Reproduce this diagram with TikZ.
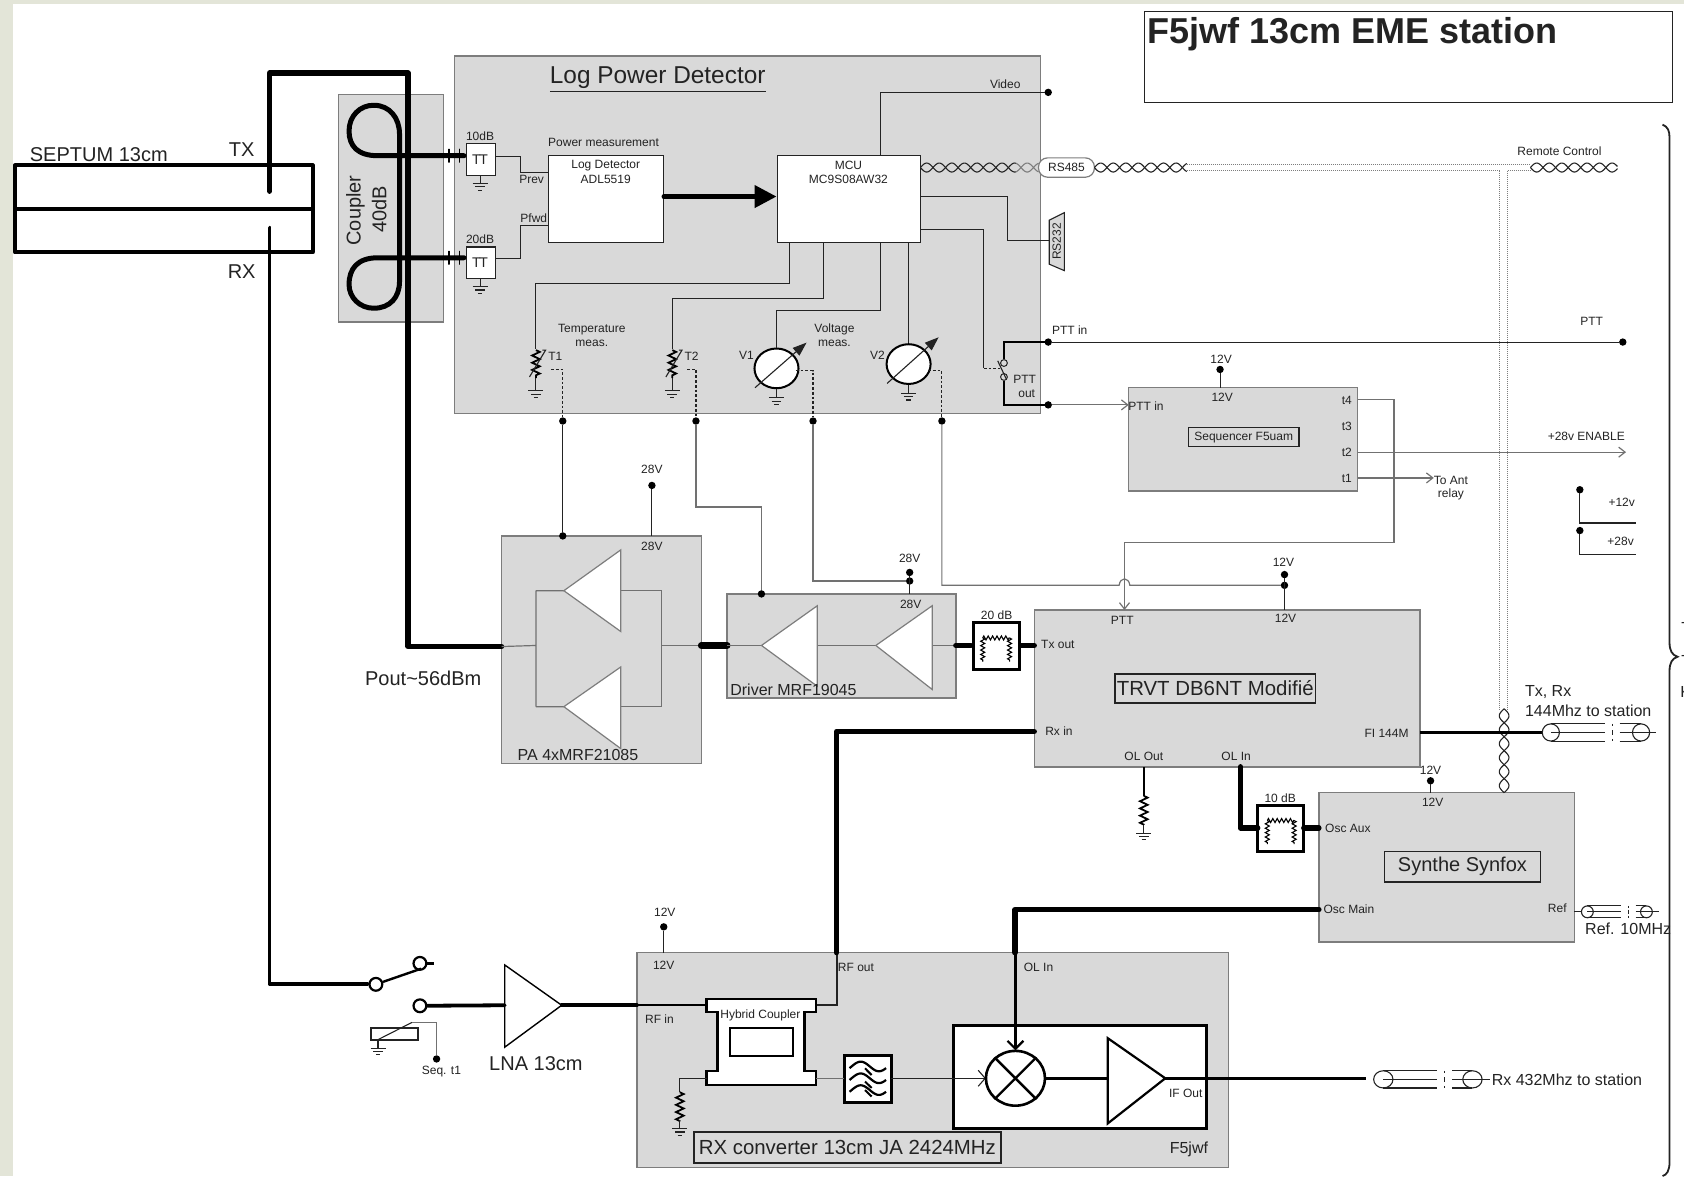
\documentclass[tikz,border=0pt]{standalone}
\usepackage{fontspec}
\setmainfont{Liberation Sans}
\usetikzlibrary{arrows.meta,decorations.pathmorphing,shapes.geometric}
\definecolor{bgc}{RGB}{227,229,216}
\definecolor{boxfill}{RGB}{217,217,217}
\definecolor{boxline}{RGB}{125,125,125}
\definecolor{ink}{RGB}{35,35,35}
\newcounter{lbc}
\newcommand\fa{\fontsize{6}{7}\selectfont}
\newcommand\fb{\fontsize{8}{9.5}\selectfont}
\newcommand\fc{\fontsize{10}{12}\selectfont}
\newcommand\fd{\fontsize{12.2}{15}\selectfont}
\NewDocumentCommand\lab{O{} r() m}{\stepcounter{lbc}\node[txt,#1] (L\arabic{lbc}) at (#2) {#3};}
\newcommand\bx[6][box]{\node[#1,anchor=north west,minimum width={(#5-#3)*0.537pt},minimum height={(#6-#4)*0.537pt}] (#2) at (#3,#4) {};}
\newcommand\dotn[2]{\node[dotst] (#1) at (#2) {};}
\newcommand\twisth[4]{\draw[tw] plot[domain=#1:#2,samples=#4,smooth] (\x,{#3+4.2*sin((\x-#1)/23.4*360)});\draw[tw] plot[domain=#1:#2,samples=#4,smooth] (\x,{#3-4.2*sin((\x-#1)/23.4*360)});}
\newcommand\twistv[4]{\draw[tw] plot[domain=#2:#3,samples=#4,smooth] ({#1+4.5*sin((\x-#2)/26*360)},\x);\draw[tw] plot[domain=#2:#3,samples=#4,smooth] ({#1-4.5*sin((\x-#2)/26*360)},\x);}
% coax: x of first ring, x of second ring, y, rx, ry, gap x, x of tail
\newcommand\coaxm[7]{\draw[wire] (#1,#3) ellipse [x radius=#4,y radius=#5] (#2,#3) ellipse [x radius=#4,y radius=#5];
 \draw[wire] (#1,#3-#5)--(#6-7,#3-#5) (#1,#3)--(#6-7,#3) (#1,#3+#5)--(#6-7,#3+#5) (#6+7,#3-#5)--(#2,#3-#5) (#6+7,#3)--(#7,#3) (#6+7,#3+#5)--(#2,#3+#5);
 \draw[wire] (#6,#3-#5)--(#6,#3-#5+2) (#6,#3-2)--(#6,#3+2) (#6,#3+#5-2)--(#6,#3+#5);}
\tikzset{x=0.537pt,y=-0.537pt,
 box/.style={draw=boxline,fill=boxfill,line width=0.7pt,inner sep=0pt,outer sep=0pt},
 wbox/.style={draw=ink,fill=white,line width=0.55pt,inner sep=0pt,outer sep=0pt},
 tbox/.style={draw=ink,fill=boxfill,line width=0.7pt,inner sep=0pt,outer sep=0pt},
 kbox/.style={draw=black,fill=white,line width=1.5pt,inner sep=0pt,outer sep=0pt},
 txt/.style={inner sep=0pt,outer sep=0pt,text=ink,font=\fa},
 b/.style={font=\fb},c/.style={font=\fc},
 wire/.style={draw=ink,line width=0.55pt},
 gw/.style={draw=boxline!90!black,line width=0.6pt},
 w2/.style={draw=black,line width=1.2pt},
 w3/.style={draw=black,line width=1.9pt,line cap=round,line join=round},
 w4/.style={draw=black,line width=2.7pt,line cap=round,line join=round},
 dsh/.style={draw=ink,line width=0.6pt,dash pattern=on 1.4pt off 1pt},
 tw/.style={draw=ink,line width=0.55pt},
 dd/.style={draw=boxline,line width=0.55pt,dash pattern=on 0.5pt off 0.5pt},
 tri/.style={draw=boxline,fill=white,line width=0.6pt,line join=miter},
 dotst/.style={circle,fill=black,inner sep=0pt,outer sep=0pt,minimum size=3.7pt},
 zz/.style={draw=black,line width=0.9pt,decorate,decoration={zigzag,amplitude=1.9pt,segment length=3.6pt}},
 zs/.style={draw=black,line width=0.55pt,decorate,decoration={zigzag,amplitude=1pt,segment length=2.2pt}},
 gnd/.pic={\draw[wire] (0,0)--(0,8) (-7,8)--(7,8) (-4.5,11)--(4.5,11) (-2,14)--(2,14);},
 atten/.pic={\path[zs] (-12.5,-4)--(12.5,-4);\path[zs] (-12.5,-4)--(-12.5,18);\path[zs] (12.5,-4)--(12.5,18);},
 opena/.style={-{Straight Barb[length=3.2pt,width=5pt]}}
}
\begin{document}
\begin{tikzpicture}
\useasboundingbox (0,0) rectangle (1568,1095);
\fill[bgc] (0,0) rectangle (1568,1095);
\fill[white] (12,4) rectangle (1568,1095);
% ---------- blocks
\bx[box]{coupler}{315}{88}{413}{300}
\bx[box]{lpd}{423}{52}{969}{385}
\bx[box]{seq}{1051}{361}{1264}{457}
\bx[box]{pa}{467}{499}{653}{711}
\bx[box]{drv}{677}{553}{890}{650}
\bx[box]{trvt}{963}{568}{1322}{714}
\bx[box]{syn}{1228}{738}{1466}{877}
\bx[box]{rxc}{593}{887}{1144}{1087}
\bx[wbox]{logdet}{511}{145}{618}{226}
\bx[wbox]{mcu}{724}{145}{857}{226}
\bx[wbox]{att1}{434}{134}{461}{163}
\bx[wbox]{att2}{434}{230}{461}{259}
\node[draw=ink,line width=0.6pt,fill=none,minimum width=492*0.537pt,minimum height=85*0.537pt,anchor=north west,inner sep=0pt] (titlebox) at (1065,10) {};
% ---------- named connection points
\coordinate (txp) at (251,178);
\coordinate (txa) at (251,68);
\coordinate (txb) at (380,602);
\coordinate (rxp) at (251,212);
\coordinate (rxb) at (251,916);
\coordinate (pain) at (467,602);
\coordinate (paout) at (653,601);
\coordinate (drvin) at (677,601);
\coordinate (drvout) at (890,601);
\coordinate (trtx) at (963,601);
\coordinate (trrx) at (963,681);
\coordinate (trfi) at (1322,682);
\coordinate (ring144) at (1436,682);
\coordinate (tror) at (1155,714);
\coordinate (trol) at (1065,714);
\coordinate (a10l) at (1171,771);
\coordinate (a10r) at (1214,771);
\coordinate (synaux) at (1228,771);
\coordinate (synmain) at (1228,847);
\coordinate (mixtop) at (945.5,978);
\coordinate (mixl) at (918,1004);
\coordinate (mixr) at (973,1004);
\coordinate (lnaout) at (523,936);
\coordinate (lnain) at (470,936);
\coordinate (hybl) at (658,936);
\coordinate (hybr) at (760,936);
\coordinate (hybbl) at (658,1004);
\coordinate (hybbr) at (760,1004);
\coordinate (filtl) at (786,1004);
\coordinate (filtr) at (830,1004);
\coordinate (ifamp) at (1031,1004);
\coordinate (ifout) at (1085,1004);
% ---------- septum
\draw[w3,line width=2pt] (14,154) rectangle (291,235) (14,195)--(291,195);
\lab[c](92,144){SEPTUM 13cm}
\lab[c](225,139){TX}
\lab[c](225,253){RX}
% ---------- TX / RX heavy lines, coupler
\draw[w4,line width=2.5pt] (432,145)--(352,145) .. controls (333,145) and (325,136) .. (325,122) .. controls (325,108) and (335,98) .. (348,98) .. controls (363,98) and (372,110) .. (372,125) -- (372,262) .. controls (372,277) and (363,287) .. (348,287) .. controls (335,287) and (325,277) .. (325,265) .. controls (325,250) and (333,240) .. (352,240) -- (432,240);
\draw[w4,line width=0.6pt] (418,139)--(418,151) (428,139)--(428,151) (418,234)--(418,246) (428,234)--(428,246);
\draw[w4] (txp)--(txa)-|(txb)--(pain);
\draw[w3] (rxp)|-(rxb)--(342,916);
\lab[c,rotate=90](331,196){Coupler}
\lab[c,rotate=90](353,195){40dB}
% ---------- Log Power Detector
\lab[font=\fd,anchor=west](512,74){\underline{Log Power Detector}}
\lab(562,133){Power measurement}
\lab(564,154){Log Detector}
\lab(564,167){ADL5519}
\lab(790,154){MCU}
\lab(790,167){MC9S08AW32}
\lab(447,127){10dB}
\lab(447,223){20dB}
\lab(447,149){\fontsize{7}{8}\selectfont T\kern-0.7pt T}
\lab(447,245){\fontsize{7}{8}\selectfont T\kern-0.7pt T}
\pic at (447,163) {gnd};
\pic at (447,259) {gnd};
\coordinate (ldp) at (511,161);
\coordinate (ldf) at (511,210);
\draw[wire] (461,146)-|(485,161)--(ldp);
\draw[wire] (461,241)-|(485,210)--(ldf);
\lab(495,167){Prev}
\lab(497,203){Pfwd}
\draw[w3,line width=2.2pt,-{Triangle[length=11pt,width=11pt]}] (618,183)--(723,183);
\dotn{vid}{976,86}
\coordinate (mvid) at (820,145);
\draw[wire] (mvid)|-(vid);
\lab(936,78){Video}
\twisth{857}{946}{156}{80}
\draw[tw,draw=boxline] plot[domain=946:967,samples=20,smooth] (\x,{156+4.2*sin((\x-857)/23.4*360)});
\draw[tw,draw=boxline] plot[domain=946:967,samples=20,smooth] (\x,{156-4.2*sin((\x-857)/23.4*360)});
\node[draw=boxline,fill=white,rounded corners=4.5pt,line width=0.6pt,minimum width=52*0.537pt,minimum height=18*0.537pt,inner sep=0pt,font=\fa,text=ink] (rs485) at (993,156) {RS485};
\twisth{1019}{1105}{156}{80}
\twisth{1425}{1506}{156}{80}
\lab(1452,141){Remote Control}
\draw[dd] (1105,153)--(1425,153) (1105,159)--(1396,159) (1404,159)--(1425,159) (1396,159)--(1396,660) (1404,159)--(1404,660);
\twistv{1400.5}{660}{738}{70}
% RS232
\draw[wire,fill=boxfill] (977,205)--(991,198)--(991,252)--(977,246)--cycle;
\lab[rotate=90](984,225){RS232}
\draw[wire] (857,183)-|(938,224)--(977,224);
% thermistors and meters
\coordinate (mt1) at (735,226);
\coordinate (mt2) at (767,226);
\coordinate (mv1) at (820,226);
\coordinate (mv2) at (846,226);
\coordinate (th1) at (499,325);
\coordinate (th2) at (626,325);
\coordinate (th1k) at (499,264);
\coordinate (th2k) at (626,278);
\coordinate (v1k) at (723,289);
\draw[wire] (mt1)|-(th1k)--(th1);
\draw[wire] (mt2)|-(th2k)--(th2);
\path[zz] (499,326)--(499,352);
\path[zz] (626,326)--(626,352);
\draw[wire] (499,352)--(499,356) (626,352)--(626,356);
\pic at (499,356) {gnd};
\pic at (626,356) {gnd};
\draw[wire] (493,351)--(508,326)--(505,326) (620,351)--(635,326)--(632,326);
\lab(517,332){T1}
\lab(644,332){T2}
\lab(551,306.5){Temperature}
\lab(551,319.5){meas.}
\lab(777,306.5){Voltage}
\lab(777,319.5){meas.}
\node[ellipse,draw=black,fill=white,line width=1pt,minimum width=41*0.537pt,minimum height=37*0.537pt,inner sep=0pt] (v1) at (723,343) {};
\node[ellipse,draw=black,fill=white,line width=1pt,minimum width=41*0.537pt,minimum height=37*0.537pt,inner sep=0pt] (v2) at (846,339) {};
\draw[wire] (mv1)|-(v1k)--(v1.north);
\draw[wire] (mv2)--(v2.north);
\draw[wire,-{Triangle[length=7pt,width=5pt]}] (703,361)--(751,319);
\draw[wire,-{Triangle[length=7pt,width=5pt]}] (826,357)--(874,314);
\lab(695,331){V1}
\lab(817,331){V2}
\pic at (v1.south) {gnd};
\pic at (v2.south) {gnd};
\dotn{jt1}{524,392}
\dotn{jt2}{648,392}
\dotn{jv1}{757,392}
\dotn{jv2}{877,392}
\draw[dsh] (513,344)-|(jt1);
\draw[dsh] (640,344)-|(jt2);
\draw[dsh] (741,345)-|(jv1);
\draw[dsh] (864,345)-|(jv2);
% PTT switch
\dotn{pttin}{976,318.5}
\dotn{pttout}{976,377}
\dotn{pttend}{1511,318.5}
\node[circle,draw=ink,fill=boxfill,line width=0.5pt,minimum size=3.4pt,inner sep=0pt] (swa) at (934.8,338) {};
\node[circle,draw=ink,fill=boxfill,line width=0.5pt,minimum size=3.4pt,inner sep=0pt] (swb) at (934.8,351) {};
\draw[w2] (swa)|-(pttin);
\draw[w2] (swb)|-(pttout);
\draw[wire] (pttin)--(pttend);
\draw[wire] (857,214)-|(916,343);
\draw[dsh] (916,343)--(931,343);
\draw[wire] (929,336)--(937,353);
\lab(996,307){PTT in}
\lab(954,353){PTT}
\lab(956,367){out}
\lab(1482,299){PTT}
% ---------- Sequencer
\coordinate (seqin) at (1051,377);
\draw[gw,opena] (pttout)--(seqin);
\lab(1067,378){PTT in}
\dotn{seq12}{1136,344}
\coordinate (seqt) at (1136,361);
\draw[wire] (seq12)--(seqt);
\lab(1137,335){12V}
\lab(1138,370){12V}
\node[tbox,minimum width=103*0.537pt,minimum height=18*0.537pt,font=\fa,text=ink] (seqname) at (1158,407) {Sequencer F5uam};
\lab(1254,373){t4}
\lab(1254,397){t3}
\lab(1254,421){t2}
\lab(1254,445){t1}
\coordinate (t4o) at (1264,372);
\coordinate (t2o) at (1264,421);
\coordinate (t1o) at (1264,445);
\coordinate (t2e) at (1514,421);
\coordinate (t1e) at (1335,445);
\coordinate (trptt) at (1047,568);
\draw[gw,opena] (t4o)-|(1298,505)-|(trptt);
\draw[gw,opena] (t2o)--(t2e);
\draw[gw,opena] (t1o)--(t1e);
\lab(1477,406){+28v ENABLE}
\lab(1351,447){To Ant}
\lab(1351,460){relay}
\dotn{p12}{1471,456}
\coordinate (p12e) at (1523,487);
\draw[wire] (p12)|-(p12e);
\lab(1510,468){+12v}
\dotn{p28}{1471,494}
\coordinate (p28e) at (1523,516);
\draw[wire] (p28)|-(p28e);
\lab(1509,504){+28v}
% ---------- PA
\dotn{patop}{524,499}
\draw[wire] (jt1)--(patop);
\dotn{pa28}{607,452}
\coordinate (pa28b) at (607,499);
\draw[wire] (pa28)--(pa28b);
\lab(607,437){28V}
\lab(607,509){28V}
\draw[gw] (pain)--(499,601) (499,550)--(499,658) (499,550)--(525,550) (499,658)--(525,658);
\draw[gw] (578,550)--(616,550)--(616,658)--(578,658) (616,601)--(paout);
\draw[tri] (525,550)--(578,512)--(578,588)--cycle;
\draw[tri] (525,658)--(578,621)--(578,697)--cycle;
\lab[b,anchor=west](482,703){PA 4xMRF21085}
\lab[c,anchor=west](340,632){Pout\textasciitilde 56dBm}
\draw[w4,line width=3.4pt] (paout)--(drvin);
% ---------- Driver
\draw[gw] (drvin)--(709,601) (761,601)--(815,601) (868,601)--(drvout);
\draw[tri] (709,601)--(761,564)--(761,639)--cycle;
\draw[tri] (815.5,601)--(868,564)--(868,642)--cycle;
\lab[b,anchor=west](680,642){Driver MRF19045}
\dotn{drtop}{709,553}
\draw[gw] (jt2)--(648,472)-|(drtop);
\dotn{dr28}{847,533}
\dotn{dr28j}{847,541}
\coordinate (dr28b) at (847,553);
\draw[wire] (dr28)--(dr28b);
\draw[gw] (jv1)|-(dr28j);
\lab(847,520){28V}
\lab(848,563){28V}
\bx[kbox]{a20}{906}{580}{949}{623}
\pic at (927.5,598) {atten};
\lab(928,573){20 dB}
\draw[w4] (drvout)--(904,601);
\draw[w4] (951,601)--(trtx);
% ---------- TRVT
\dotn{tr12}{1196,535}
\dotn{tr12j}{1196,545}
\coordinate (tr12b) at (1196,568);
\draw[wire] (tr12)--(tr12b);
\draw[gw] (jv2)|-(1042,545) .. controls (1043,537) and (1051,537) .. (1052,545)--(tr12j);
\lab(1195,524){12V}
\lab(1197,576){12V}
\lab(1045,578){PTT}
\lab(985,600){Tx out}
\lab(986,681){Rx in}
\lab(1291,683){FI 144M}
\lab(1065,704){OL Out}
\lab(1151,704){OL In}
\node[tbox,minimum width=187*0.537pt,minimum height=27*0.537pt,font=\fontsize{10.2}{12}\selectfont,text=ink] (trname) at (1131.5,641) {TRVT DB6NT Modifié};
\draw[w2,line width=1.4pt] (trfi)--(ring144);
\coaxm{1444}{1528}{682}{8}{8}{1501}{1542}
\lab[b,anchor=west](1420,644){Tx, Rx}
\lab[b,anchor=west](1420,662){144Mhz to station}
\draw[w2] (trol)--(1065,741);
\path[zz] (1065,741)--(1065,768);
\pic at (1065,768) {gnd};
% ---------- Synth
\dotn{sy12}{1332,727}
\coordinate (sy12b) at (1332,738);
\draw[wire] (sy12)--(sy12b);
\lab(1332,717){12V}
\lab(1334,747){12V}
\bx[kbox]{a10}{1171}{750}{1214}{793}
\pic at (1192.5,768) {atten};
\lab(1192,743){10 dB}
\draw[w4] (tror)|-(a10l);
\draw[w4] (a10r)--(synaux);
\lab(1255,771){Osc Aux}
\lab(1256,847){Osc Main}
\lab(1450,846){Ref}
\node[tbox,minimum width=145*0.537pt,minimum height=28.5*0.537pt,font=\fc,text=ink] (syname) at (1361.7,807) {Synthe Synfox};
\coaxm{1478}{1533}{849}{5.5}{5.5}{1516}{1545}
\draw[wire] (1466,849)--(1472,849);
\lab[b,anchor=west](1476,865){Ref. 10MHz}
% ---------- RX converter
\dotn{rx12}{618,863}
\coordinate (rx12b) at (618,887);
\draw[wire] (rx12)--(rx12b);
\lab(619,849){12V}
\lab(618,899){12V}
\lab(614,949){RF in}
\lab(797,901){RF out}
\lab(967,901){OL In}
\lab[b](1107,1070){F5jwf}
\draw[w3] (lnaout)--(593,936);
\draw[w2] (593,936)--(hybl);
\draw[wire,line width=1pt] (hybr)-|(779,887);
\draw[w4] (779,887)|-(trrx);
\draw[w4] (synmain)-|(945,887);
% hybrid
\draw[draw=black,fill=white,line width=1.2pt] (658,930)--(760,930)--(760,942)--(749,942)--(749,997)--(760,997)--(760,1010)--(658,1010)--(658,997)--(668,997)--(668,942)--(658,942)--cycle;
\lab(708,945){Hybrid Coupler}
\draw[draw=black,line width=1.1pt] (679.5,957) rectangle (738,983);
\coordinate (hybres) at (633,1017);
\draw[wire] (hybbl)-|(hybres);
\path[zz] (633,1017)--(633,1044);
\draw[wire] (633,1044)--(633,1046);
\pic at (633,1043) {gnd};
\bx[kbox]{filt}{786}{983}{830}{1027}
\draw[gw] (hybbr)--(filtl);
\foreach \yy in {993,1004,1015} {\draw[draw=black,line width=1.1pt] plot[domain=791:825,samples=24,smooth] (\x,{\yy+4.5*sin((\x-791)*360/34+160)});}
\draw[draw=black,line width=1pt] (805.4,994.7)--(811.6,1001) (805.4,1007)--(811.6,1013) (805.4,1015)--(811.6,1021);
\bx[kbox]{mixb}{888}{954.5}{1123}{1050.6}
\draw[wire,-{Straight Barb[length=3.5pt,width=8pt]}] (filtr)--(mixl);
\draw[w2,line width=1.1pt,-{Straight Barb[length=4pt,width=8pt]}] (945.5,887)--(mixtop);
\node[ellipse,draw=black,fill=none,line width=1.3pt,minimum width=55*0.537pt,minimum height=51*0.537pt,inner sep=0pt] (mix) at (945.5,1004) {};
\draw[draw=black,line width=1.2pt] (mix.45)--(mix.225) (mix.135)--(mix.315);
\draw[w2,line width=1.4pt] (mixr)--(ifamp);
\draw[draw=black,fill=white,line width=1.1pt] (1031.5,966.7)--(ifout)--(1031.5,1046)--cycle;
\lab(1104,1018){IF Out}
\coordinate (ring432) at (1272,1004);
\draw[w2,line width=1.4pt] (ifout)--(ring432);
\coaxm{1288}{1371}{1005}{9}{8}{1345}{1387}
\lab[b,anchor=west](1389,1005){Rx 432Mhz to station}
\node[tbox,minimum width=286*0.537pt,minimum height=29*0.537pt,font=\fontsize{10.2}{12}\selectfont,text=ink] (rxname) at (789,1068.5) {RX converter 13cm JA 2424MHz};
% ---------- LNA and switch
\draw[draw=black,fill=white,line width=0.7pt] (470,898.5)--(lnaout)--(470,975)--cycle;
\lab[c](499,990){LNA 13cm}
\node[circle,draw=black,fill=none,line width=1.1pt,minimum size=6.4pt,inner sep=0pt] (sw0) at (350,916.5) {};
\node[circle,draw=black,fill=none,line width=1.1pt,minimum size=6.4pt,inner sep=0pt] (sw1) at (391,897) {};
\node[circle,draw=black,fill=none,line width=1.1pt,minimum size=6.4pt,inner sep=0pt] (sw2) at (391,936.5) {};
\draw[w2] (sw0)--(392,902);
\draw[w2] (sw1)--(404,897);
\draw[w3] (sw2)--(lnain);
\draw[wire,line width=1pt,fill=none] (345.5,957) rectangle (389,968);
\draw[wire] (352,968)--(383.5,952);
\dotn{seqt1}{406.5,986}
\draw[gw] (383.5,952)--(406.5,952)--(seqt1);
\pic at (352,968) {gnd};
\lab(411,998){Seq. t1}
% ---------- title, brace, clipped text
\lab[font=\bfseries\fontsize{18}{21}\selectfont,anchor=west](1068,32){F5jwf 13cm EME station}
\draw[wire,line width=0.9pt] (1548,116) .. controls (1553,118) and (1554.5,122) .. (1554.5,128)--(1554.5,598) .. controls (1554.5,606) and (1557,610) .. (1562,611.5) .. controls (1557,613) and (1554.5,617) .. (1554.5,625)--(1554.5,1082) .. controls (1554.5,1090) and (1552,1094) .. (1548,1095);
\lab[b,anchor=west](1565.5,584.5){T}
\lab[b,anchor=west](1565.5,615.5){T}
\lab[b,anchor=west](1564.5,644){K}
\end{tikzpicture}
\end{document}
